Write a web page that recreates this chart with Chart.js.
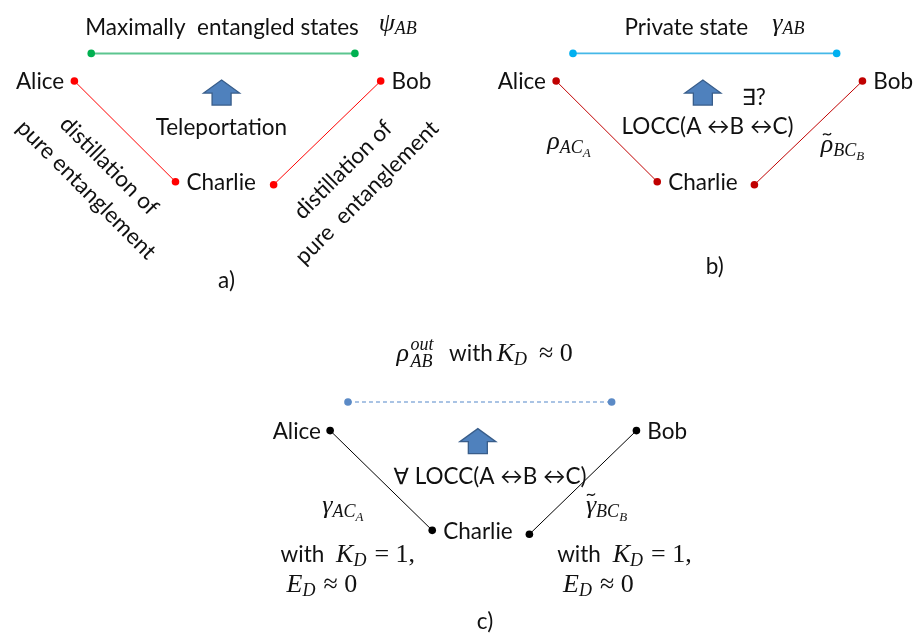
<!DOCTYPE html>
<html>
<head>
<meta charset="utf-8">
<script src="https://cdn.jsdelivr.net/npm/chart.js@4"></script>
<style>
  html, body { margin: 0; padding: 0; background: #fff; }
  #wrap { width: 917px; height: 640px; }
</style>
</head>
<body>
<div id="wrap"><canvas id="fig" width="917" height="640"></canvas></div>
<script>
// Node positions (x, y) of each link, in figure units
const topA = [[88, 50], [354, 50]];
const leftA = [[71, 78], [173, 180]];
const rightA = [[272, 183], [380, 78]];
const topB = [[574, 50], [840, 50]];
const leftB = [[557, 78], [659, 180]];
const rightB = [[757, 183], [866, 78]];
const topC = [[347, 403], [613, 403]];
const leftC = [[329, 432], [432, 533]];
const rightC = [[530, 537], [638, 432]];

// Labels
const nodeNames = ['Alice', 'Bob', 'Charlie'];
const panelTags = ['a)', 'b)', 'c)'];
const arrowTips = [[219.5, 77], [705, 77], [478, 430]];

const SANS = "Lato, 'DejaVu Sans', sans-serif";
const MATH = "'Liberation Serif', 'DejaVu Serif', serif";
const FS = 22.5;
const sans = s => s + 'px ' + SANS;
const mi = s => 'italic ' + s + 'px ' + MATH;
const mr = s => s + 'px ' + MATH;

const toPts = arr => arr.map(p => ({ x: p[0], y: p[1] }));

function link(arr, line, dot, width, dash) {
    return {
        data: toPts(arr),
        showLine: true,
        borderColor: line,
        borderWidth: width,
        borderDash: dash || [],
        pointRadius: 3.8,
        pointBackgroundColor: dot,
        pointBorderWidth: 0
    };
}

// draw a sequence of text runs with baseline shifts
function runs(ctx, list, x, y) {
    let cx = x;
    list.forEach(r => {
        ctx.font = r.f;
        const w = ctx.measureText(r.t).width;
        ctx.fillText(r.t, cx, y + (r.dy || 0));
        if (r.tilde) {
            const a = cx + w / 2 - 4, yt = y - 18;
            ctx.save();
            ctx.lineWidth = 1.3;
            ctx.strokeStyle = ctx.fillStyle;
            ctx.beginPath();
            ctx.moveTo(a, yt + 1);
            ctx.bezierCurveTo(a + 2.5, yt - 3, a + 5.5, yt + 4, a + 8, yt - 1);
            ctx.stroke();
            ctx.restore();
        }
        cx += w + (r.gap || 0);
    });
}

function arrow(ctx, x, y) {
    ctx.save();
    ctx.beginPath();
    ctx.moveTo(x, y);
    ctx.lineTo(x + 18, y + 13);
    ctx.lineTo(x + 9.5, y + 13);
    ctx.lineTo(x + 9.5, y + 25);
    ctx.lineTo(x - 9.5, y + 25);
    ctx.lineTo(x - 9.5, y + 13);
    ctx.lineTo(x - 18, y + 13);
    ctx.closePath();
    ctx.fillStyle = '#4F81BD';
    ctx.fill();
    ctx.strokeStyle = '#385D8A';
    ctx.lineWidth = 1.3;
    ctx.stroke();
    ctx.restore();
}

function rotated(ctx, text, x, y, ang) {
    ctx.save();
    ctx.translate(x, y);
    ctx.rotate(ang);
    ctx.textAlign = 'center';
    ctx.textBaseline = 'middle';
    ctx.font = sans(FS);
    ctx.fillText(text, 0, 0);
    ctx.restore();
}

const textLayer = {
    id: 'textLayer',
    afterDatasetsDraw(chart) {
        const ctx = chart.ctx;
        const sx = chart.scales.x, sy = chart.scales.y;
        const px = v => sx.getPixelForValue(v), py = v => sy.getPixelForValue(v);

        arrowTips.forEach(t => arrow(ctx, px(t[0]), py(t[1])));

        ctx.save();
        ctx.fillStyle = '#111';
        ctx.textAlign = 'left';
        ctx.textBaseline = 'alphabetic';
        const T = (t, x, y, f) => { ctx.font = f || sans(FS); ctx.fillText(t, px(x), py(y)); };
        const sub = [{ f: mi(26) }, { f: mi(18), dy: 4 }, { f: mi(13), dy: 8 }];

        // panel a
        T('Maximally  entangled states', 82, 31);
        runs(ctx, [{ t: 'ψ', f: mi(26) }, { t: 'AB', f: mi(18), dy: 3 }], px(378), py(27));
        T(nodeNames[0], 12, 86);
        T(nodeNames[1], 391, 86);
        T(nodeNames[2], 184, 188);
        T('Teleportation', 153, 133);
        rotated(ctx, 'distillation of', px(106), py(164), Math.PI / 4);
        rotated(ctx, 'pure entanglement', px(83), py(188), Math.PI / 4);
        rotated(ctx, 'distillation of', px(342), py(168), -Math.PI / 4);
        rotated(ctx, 'pure  entanglement', px(366), py(191), -Math.PI / 4);
        T(panelTags[0], 216, 288);

        // panel b
        T('Private state', 626, 31);
        runs(ctx, [{ t: 'γ', f: mi(26) }, { t: 'AB', f: mi(18), dy: 3 }], px(775), py(27));
        T(nodeNames[0], 498, 86);
        T(nodeNames[1], 877, 86);
        T(nodeNames[2], 670, 188);
        T('∃?', 744, 102);
        T('LOCC(A ↔B ↔C)', 623, 132);
        runs(ctx, [{ t: 'ρ', ...sub[0] }, { t: 'AC', ...sub[1] }, { t: 'A', ...sub[2] }], px(548), py(147));
        runs(ctx, [{ t: 'ρ', ...sub[0], tilde: true }, { t: 'BC', ...sub[1] }, { t: 'B', ...sub[2] }], px(824), py(150));
        T(panelTags[1], 708, 273);

        // panel c
        T('ρ', 396, 362, mi(26));
        T('out', 410, 350, mi(18));
        T('AB', 410, 368, mi(18));
        T('with', 449, 362);
        runs(ctx, [{ t: 'K', f: mi(26) }, { t: 'D', f: mi(18), dy: 4, gap: 12 }, { t: '≈ 0', f: mr(26) }], px(497), py(362));
        T(nodeNames[0], 271, 440);
        T(nodeNames[1], 649, 440);
        T(nodeNames[2], 443, 542);
        T('∀ LOCC(A ↔B ↔C)', 393, 486);
        runs(ctx, [{ t: 'γ', ...sub[0] }, { t: 'AC', ...sub[1] }, { t: 'A', ...sub[2] }], px(321), py(515));
        runs(ctx, [{ t: 'γ', ...sub[0], tilde: true }, { t: 'BC', ...sub[1] }, { t: 'B', ...sub[2] }], px(587), py(515));
        [279, 558].forEach(x0 => {
            T('with', x0, 565);
            runs(ctx, [{ t: 'K', f: mi(26) }, { t: 'D', f: mi(18), dy: 4, gap: 8 }, { t: '= 1,', f: mr(26) }], px(x0 + 56), py(565));
            runs(ctx, [{ t: 'E', f: mi(26) }, { t: 'D', f: mi(18), dy: 4, gap: 8 }, { t: '≈ 0', f: mr(26) }], px(x0 + 6), py(595));
        });
        T(panelTags[2], 477, 633);
        ctx.restore();
    }
};

new Chart(document.getElementById('fig'), {
    type: 'scatter',
    data: {
        datasets: [
            link(topA, '#5CC58F', '#00B050', 2),
            link(leftA, '#FF0000', '#FF0000', 1),
            link(rightA, '#FF0000', '#FF0000', 1),
            link(topB, '#45B8E8', '#00B0F0', 1.6),
            link(leftB, '#C00000', '#C00000', 1),
            link(rightB, '#C00000', '#C00000', 1),
            link(topC, '#8DB0DC', '#5B8AC6', 1.5, [4, 3]),
            link(leftC, '#000000', '#000000', 1),
            link(rightC, '#000000', '#000000', 1)
        ]
    },
    options: {
        responsive: false,
        animation: false,
        layout: { padding: 0 },
        plugins: { legend: { display: false }, tooltip: { enabled: false } },
        scales: {
            x: { type: 'linear', min: 0, max: 917, display: false },
            y: { type: 'linear', min: 0, max: 640, reverse: true, display: false }
        }
    },
    plugins: [textLayer]
});
</script>
</body>
</html>
